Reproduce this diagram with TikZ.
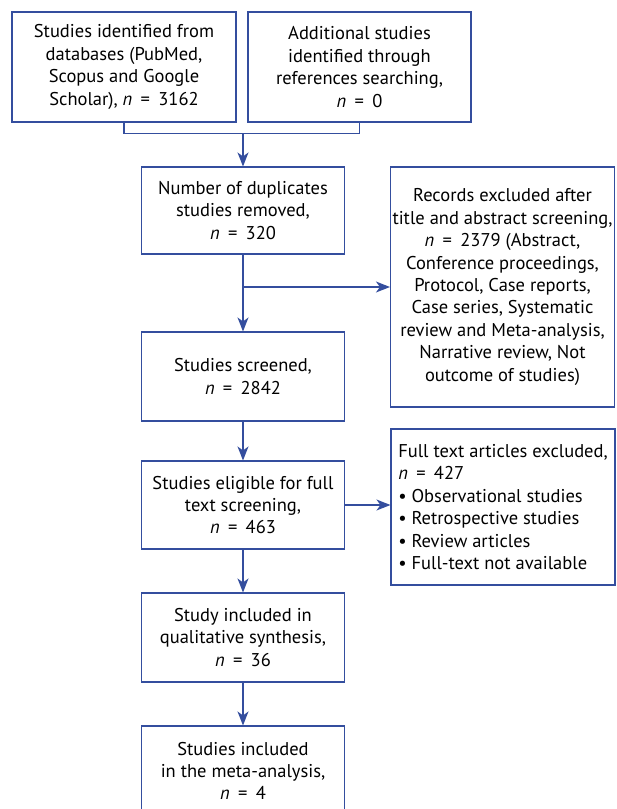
\documentclass[tikz,border=0pt]{standalone}
\usepackage{fontspec}
\setmainfont{PT Sans}
\usetikzlibrary{arrows.meta, positioning, calc}
\definecolor{flowblue}{RGB}{52,78,158}
\newcommand{\ncount}[1]{\textit{n}\hspace{0.45em}=\hspace{0.45em}#1}
\begin{document}
\begin{tikzpicture}[x=1pt, y=-1pt,
    box/.style={draw=flowblue, line width=1.1pt, align=center, inner sep=0pt,
      minimum width=203pt, minimum height=88pt, font=\fontsize{18.5}{22.4}\selectfont},
    link/.style={draw=flowblue, line width=1.2pt},
    flow/.style={link, -{Stealth[length=14pt, width=11pt, inset=4pt]}}]
  \useasboundingbox (0,0) rectangle (617,809);

  % sources
  \node[box, minimum width=224pt, minimum height=110pt] (ident) at (124,67)
    {Studies identified from\\databases (PubMed,\\Scopus and Google\\Scholar), \ncount{3162}};
  \node[box, minimum width=223pt, minimum height=110pt] (addl) at (359.5,67)
    {Additional studies\\identified through\\references searching,\\\ncount{0}};

  % main column
  \node[box, minimum height=87pt] (dup) at (243,210.5)
    {Number of duplicates\\studies removed,\\\ncount{320}};
  \node[box, minimum height=89pt] (screen) at (243,376.5)
    {Studies screened,\\\ncount{2842}};
  \node[box] (elig) at (243,505)
    {Studies eligible for full\\text screening,\\\ncount{463}};
  \node[box, minimum height=89pt] (qual) at (243,637.5)
    {Study included in\\qualitative synthesis,\\\ncount{36}};
  \node[box, minimum height=90pt] (meta) at (243,771)
    {Studies included\\in the meta-analysis,\\\ncount{4}};

  % exclusions
  \node[box, minimum width=224pt, minimum height=240pt] (excl) at (502.5,287)
    {Records excluded after\\title and abstract screening,\\\ncount{2379} (Abstract,\\Conference proceedings,\\Protocol, Case reports,\\Case series, Systematic\\review and Meta-analysis,\\Narrative review, Not\\outcome of studies)};
  \node[box, minimum width=224pt, minimum height=156pt, align=left] (full) at (503,507)
    {Full text articles excluded,\\\ncount{427}\\\textbullet{} Observational studies\\\textbullet{} Retrospective studies\\\textbullet{} Review articles\\\textbullet{} Full-text not available};

  % connectors
  \coordinate (join) at ($(ident.south)+(0,11)$);
  \draw[link] (ident.south) -- (join) -| (addl.south);
  \draw[flow] (dup.north |- join) -- (dup.north);
  \draw[flow] (dup) -- (screen);
  \draw[flow] (dup.south |- excl.west) -- (excl.west);
  \draw[flow] (screen) -- (elig);
  \draw[flow] (elig.east) -- (elig.east -| full.west);
  \draw[flow] (elig) -- (qual);
  \draw[flow] (qual) -- (meta);
\end{tikzpicture}
\end{document}
